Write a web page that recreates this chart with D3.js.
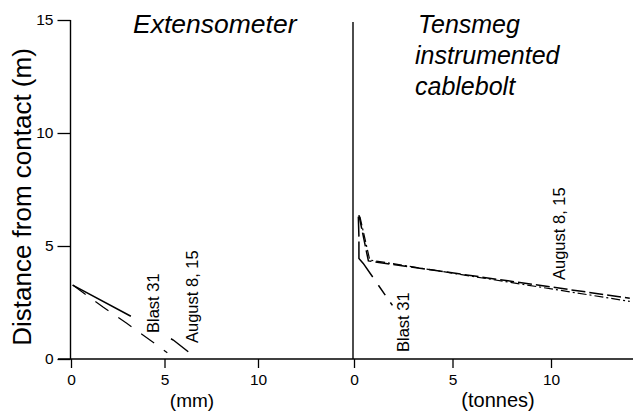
<!DOCTYPE html>
<html lang="en">
<head>
<meta charset="UTF-8">
<title>Extensometer and Tensmeg profiles</title>
<script src="https://d3js.org/d3.v7.min.js"></script>
<style>
  body { margin: 0; background: #fff; }
  text { font-family: "Liberation Sans", Arial, sans-serif; fill: #000; }
  .tick text { font-size: 15.5px; }
  .tick line { stroke: #000; stroke-width: 1.3px; }
  .axis path.domain { display: none; }
  .frame { stroke: #000; stroke-width: 1.4px; fill: none; }
  .series { fill: none; stroke: #000; stroke-width: 1.5px; }
  .title { font-size: 25px; font-style: italic; }
  .lbl { font-size: 16.5px; }
</style>
</head>
<body>
<div id="chart"></div>
<script>
// distance from contact (m), y axis
const yTicks = [0, 5, 10, 15];
const xTicks = [0, 5, 10];

// extensometer (mm)
const extAugX = [0.09, 3.25, 5.47, 6.27];
const extAugY = [3.27, 1.87, 0.84, 0.32];
const extBlastX = [0.09, 1.73, 2.98, 4.22, 5.15];
const extBlastY = [3.27, 2.29, 1.58, 0.84, 0.28];

// tensmeg cablebolt (tonnes)
const tenAug8X = [0.25, 0.73, 14.0];
const tenAug8Y = [6.37, 4.34, 2.69];
const tenAug15X = [0.3, 0.8, 14.0];
const tenAug15Y = [6.3, 4.38, 2.55];
const tenBlastX = [0.22, 0.25, 0.25, 0.47, 1.95];
const tenBlastY = [6.3, 5.4, 4.45, 4.23, 2.37];

const width = 635, height = 415;

const svg = d3.select("#chart").append("svg")
    .attr("width", width)
    .attr("height", height);

svg.append("rect").attr("width", width).attr("height", height).attr("fill", "#fff");

const y = d3.scaleLinear().domain([0, 15]).range([359, 20]);
const xL = d3.scaleLinear().domain([0, 10]).range([71, 258]);
const xR = d3.scaleLinear().domain([0, 10]).range([354, 551]);

function pts(xs, ys) { return xs.map((v, i) => [v, ys[i]]); }

// baseline across both panels
svg.append("line").attr("class", "frame")
    .attr("x1", 58).attr("x2", 633).attr("y1", y(0)).attr("y2", y(0));
// left y axis line
svg.append("line").attr("class", "frame")
    .attr("x1", xL(0) - 0.5).attr("x2", xL(0) - 0.5).attr("y1", y(15)).attr("y2", y(0));
// right y axis line
svg.append("line").attr("class", "frame")
    .attr("x1", xR(0) - 1).attr("x2", xR(0) - 1).attr("y1", y(15) + 2).attr("y2", y(0));

svg.append("g").attr("class", "axis")
    .attr("transform", `translate(${xL(0) - 0.5},0)`)
    .call(d3.axisLeft(y).tickValues(yTicks).tickSize(13).tickPadding(4));

svg.append("g").attr("class", "axis")
    .attr("transform", `translate(0,${y(0)})`)
    .call(d3.axisBottom(xL).tickValues(xTicks).tickSize(9).tickPadding(6));

svg.append("g").attr("class", "axis")
    .attr("transform", `translate(0,${y(0)})`)
    .call(d3.axisBottom(xR).tickValues(xTicks).tickSize(9).tickPadding(6));

// axis titles
svg.append("text")
    .attr("transform", "translate(31,197) rotate(-90)")
    .attr("text-anchor", "middle")
    .style("font-size", "26px")
    .text("Distance from contact (m)");

svg.append("text").attr("x", 192).attr("y", 407)
    .attr("text-anchor", "middle").style("font-size", "19px").text("(mm)");
svg.append("text").attr("x", 498).attr("y", 407)
    .attr("text-anchor", "middle").style("font-size", "20px").text("(tonnes)");

// panel titles
svg.append("text").attr("class", "title").attr("x", 133).attr("y", 33)
    .style("font-size", "26.5px").text("Extensometer");
const tt = svg.append("text").attr("class", "title").attr("x", 416).attr("y", 33);
["Tensmeg", "instrumented", "cablebolt"].forEach((s, i) => {
  tt.append("tspan").attr("x", i === 0 ? 418 : 415).attr("dy", i === 0 ? 0 : 31).text(s);
});

const lineL = d3.line().x(d => xL(d[0])).y(d => y(d[1]));
const lineR = d3.line().x(d => xR(d[0])).y(d => y(d[1]));

svg.append("path").attr("class", "series")
    .attr("d", lineL(pts(extAugX, extAugY)))
    .attr("stroke-dasharray", "66,46");
svg.append("path").attr("class", "series")
    .attr("d", lineL(pts(extBlastX, extBlastY)))
    .style("stroke-width", "1.2px")
    .attr("stroke-dasharray", "16,12");

svg.append("path").attr("class", "series")
    .attr("d", lineR(pts(tenAug8X, tenAug8Y)))
    .attr("stroke-dasharray", "14,4");
svg.append("path").attr("class", "series")
    .attr("d", lineR(pts(tenAug15X, tenAug15Y)))
    .style("stroke-width", "1.2px")
    .attr("stroke-dasharray", "9,3,2,3");
svg.append("path").attr("class", "series")
    .attr("d", lineR(pts(tenBlastX, tenBlastY)))
    .attr("stroke-dasharray", "20,5,40,10,12,9");

// series labels
function vlabel(x, yy, s) {
  svg.append("text").attr("class", "lbl")
      .attr("transform", `translate(${x},${yy}) rotate(-90)`)
      .text(s);
}
vlabel(159, 333, "Blast 31");
vlabel(198, 343, "August 8, 15");
vlabel(409, 352, "Blast 31");
vlabel(565, 280, "August 8, 15");
</script>
</body>
</html>
